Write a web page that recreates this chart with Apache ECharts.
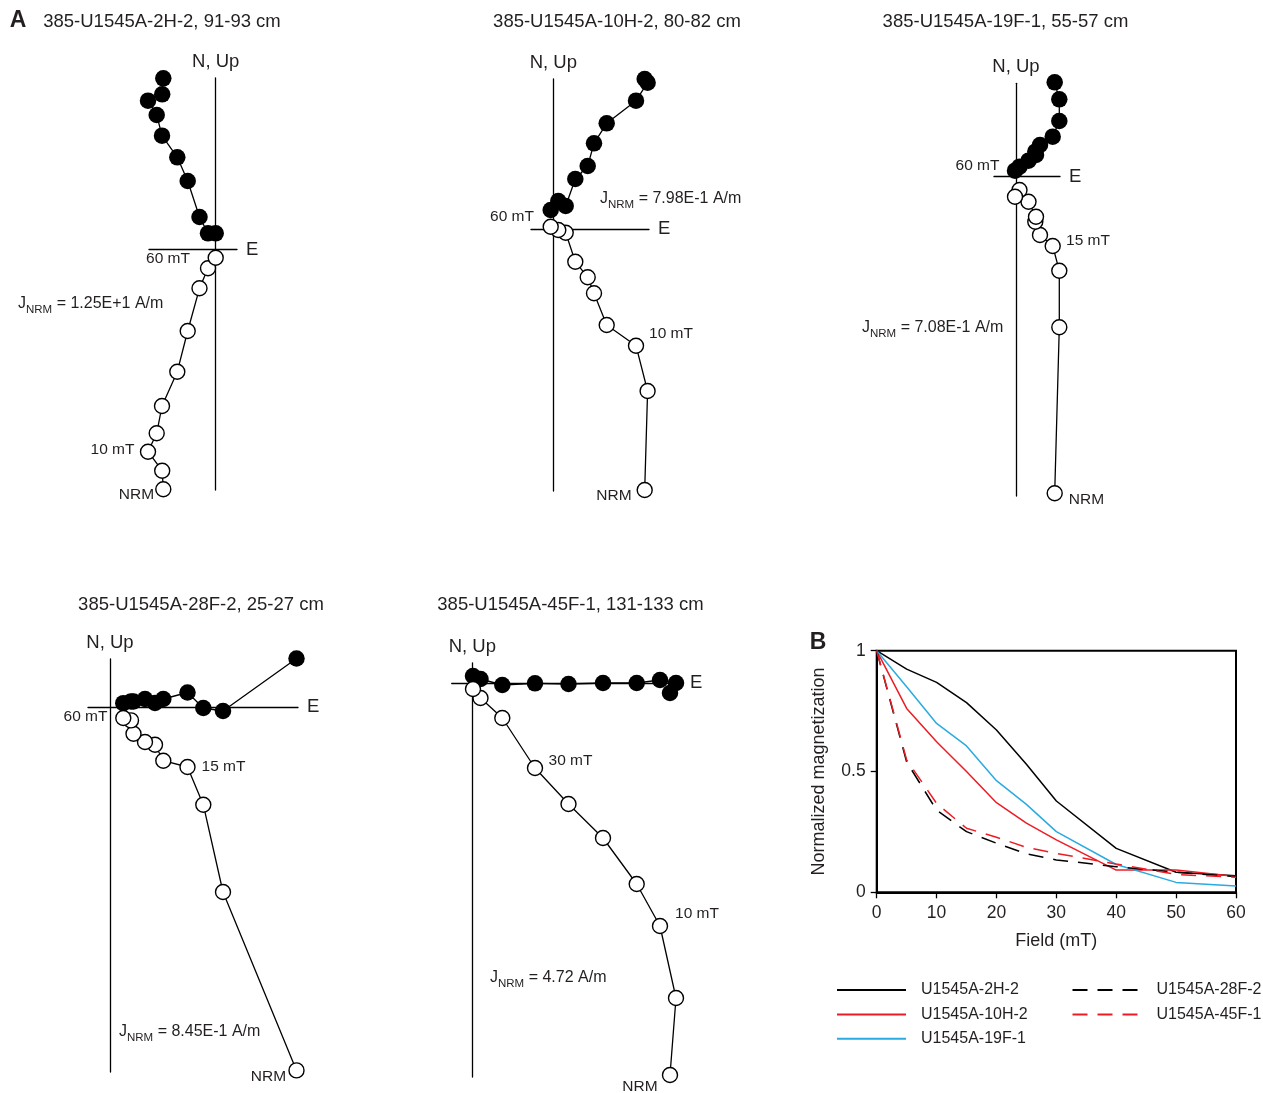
<!DOCTYPE html>
<html>
<head>
<meta charset="utf-8">
<script src="https://cdn.jsdelivr.net/npm/echarts@6/dist/echarts.min.js"></script>
<style>
html,body{margin:0;padding:0;background:#fff;}
#chart{width:1263px;height:1093px;}
</style>
</head>
<body>
<div id="chart"></div>
<script>
// ---------------- DATA ----------------
// AF demagnetization steps (mT)
const steps = [0, 5, 10, 15, 20, 25, 30, 40, 50, 60];

// Zijderveld projections (arbitrary plot units), order NRM -> 60 mT
const east_2H  = [-52.4, -53.5, -67.7, -59.0, -53.7, -38.4, -28.0, -16.2, -7.7, 0.0];
const north_2H = [171.2, 155.2, 148.8, 134.5, 113.8, 92.2, 68.5, 32.5, 16.2, 16.2];
const up_2H    = [-239.8, -221.2, -202.2, -183.8, -156.5, -122.2, -81.5, -38.8, -18.8, -8.2];

const east_10H  = [91.4, 94.3, 82.7, 53.4, 40.7, 34.4, 22.0, 12.4, 5.0, -2.6];
const north_10H = [150.0, 146.3, 128.3, 105.7, 85.7, 63.0, 50.0, 23.0, 28.0, 19.0];
const up_10H    = [-261.0, -162.0, -116.7, -96.0, -64.3, -48.3, -32.7, -3.7, -1.0, 2.3];

const east_19F  = [38.7, 43.3, 43.3, 36.7, 24.0, 19.3, 20.0, 12.5, 3.5, -1.0];
const north_19F = [94.4, 77.4, 55.7, 40.0, 31.7, 25.0, 21.7, 16.0, 10.0, 6.0];
const up_19F    = [-316.6, -150.6, -94.0, -69.3, -58.3, -45.0, -40.0, -25.0, -13.3, -20.0];

const east_28F  = [186.5, 113.0, 93.3, 77.5, 53.3, 45.0, 35.0, 23.5, 21.0, 13.3];
const north_28F = [48.5, -4.0, -1.0, 14.5, 8.0, 4.0, 8.0, 5.5, 5.6, 3.8];
const up_28F    = [-363.4, -185.0, -97.7, -60.0, -53.7, -37.7, -35.0, -26.7, -13.4, -11.0];

const east_45F  = [197.7, 203.7, 187.7, 164.4, 130.7, 96.2, 62.7, 30.0, 8.2, 0.7];
const north_45F = [-9.7, 0.3, 3.3, 0.3, 0.3, -0.7, 0.0, -1.7, 4.3, 7.3];
const up_45F    = [-391.7, -314.7, -242.7, -200.7, -154.7, -120.7, -84.7, -34.7, -14.7, -5.7];

// Normalized magnetization vs field
const field = [0, 5, 10, 15, 20, 25, 30, 40, 50, 60];
const norm_2H  = [1, 0.924, 0.869, 0.785, 0.672, 0.530, 0.378, 0.182, 0.083, 0.069];
const norm_10H = [1, 0.761, 0.623, 0.500, 0.371, 0.286, 0.217, 0.092, 0.092, 0.065];
const norm_19F = [1, 0.851, 0.699, 0.606, 0.462, 0.364, 0.251, 0.115, 0.041, 0.026];
const norm_28F = [1, 0.540, 0.340, 0.251, 0.203, 0.159, 0.134, 0.106, 0.083, 0.065];
const norm_45F = [1, 0.548, 0.368, 0.265, 0.228, 0.186, 0.161, 0.117, 0.074, 0.062];

const sampleNames = ['U1545A-2H-2', 'U1545A-10H-2', 'U1545A-19F-1', 'U1545A-28F-2', 'U1545A-45F-1'];
const panelTitles = ['385-U1545A-2H-2, 91-93 cm', '385-U1545A-10H-2, 80-82 cm', '385-U1545A-19F-1, 55-57 cm',
                     '385-U1545A-28F-2, 25-27 cm', '385-U1545A-45F-1, 131-133 cm'];
const jnrmText = ['1.25E+1 A/m', '7.98E-1 A/m', '7.08E-1 A/m', '8.45E-1 A/m', '4.72 A/m'];

// ---------------- LAYOUT ----------------
const FONT = '"Liberation Sans", Arial, Helvetica, sans-serif';
const TXT = '#231f20';
const RED = '#ed1c24';
const BLUE = '#29abe2';

// frame: origin (ox, oy), horizontal axis x0..x1, vertical axis y0..y1 (pixels)
const frames = [
  {ox: 215.7, oy: 249.5, x0: 149, x1: 237, y0: 78, y1: 490},
  {ox: 553.3, oy: 229, x0: 531, x1: 649, y0: 79, y1: 491},
  {ox: 1016, oy: 176.7, x0: 994, x1: 1060, y0: 83.3, y1: 496},
  {ox: 110, oy: 707, x0: 88, x1: 298, y0: 659, y1: 1072},
  {ox: 472.3, oy: 683.3, x0: 451.7, x1: 681, y0: 663, y1: 1077}
];
const zdata = [
  [east_2H, north_2H, up_2H],
  [east_10H, north_10H, up_10H],
  [east_19F, north_19F, up_19F],
  [east_28F, north_28F, up_28F],
  [east_45F, north_45F, up_45F]
];

const grids = [], xAxes = [], yAxes = [], series = [];

frames.forEach((f, i) => {
  grids.push({left: f.x0, top: f.y0, width: f.x1 - f.x0, height: f.y1 - f.y0, containLabel: false});
  xAxes.push({
    type: 'value', gridIndex: i, min: f.x0 - f.ox, max: f.x1 - f.ox,
    axisLine: {show: true, onZero: true, lineStyle: {color: '#000', width: 1.3}},
    axisTick: {show: false}, axisLabel: {show: false}, splitLine: {show: false},
    name: 'E', nameLocation: 'end', nameGap: 9,
    nameTextStyle: {fontSize: 18.5, color: TXT, fontFamily: FONT}
  });
  yAxes.push({
    type: 'value', gridIndex: i, min: f.oy - f.y1, max: f.oy - f.y0,
    axisLine: {show: true, onZero: true, lineStyle: {color: '#000', width: 1.3}},
    axisTick: {show: false}, axisLabel: {show: false}, splitLine: {show: false},
    name: 'N, Up', nameLocation: 'end', nameGap: 7,
    nameTextStyle: {fontSize: 18.5, color: TXT, fontFamily: FONT}
  });
  const [e, n, u] = zdata[i];
  series.push({
    type: 'line', xAxisIndex: i, yAxisIndex: i, clip: false, silent: true,
    data: e.map((v, k) => [v, n[k]]),
    symbol: 'circle', symbolSize: 16.5, showAllSymbol: true,
    lineStyle: {color: '#000', width: 1.3},
    itemStyle: {color: '#000', borderColor: '#000', borderWidth: 0},
    z: 3
  });
  series.push({
    type: 'line', xAxisIndex: i, yAxisIndex: i, clip: false, silent: true,
    data: e.map((v, k) => [v, u[k]]),
    symbol: 'circle', symbolSize: 15, showAllSymbol: true,
    lineStyle: {color: '#000', width: 1.3},
    itemStyle: {color: '#fff', borderColor: '#000', borderWidth: 1.4},
    z: 4
  });
});

// Panel B
const gB = grids.length;
grids.push({left: 876.7, top: 650.7, width: 359.3, height: 241.6, show: true, borderColor: '#000', borderWidth: 2, containLabel: false});
xAxes.push({
  type: 'value', gridIndex: gB, min: 0, max: 60, interval: 10,
  axisLine: {show: true, onZero: false, lineStyle: {color: '#000', width: 2}},
  axisTick: {show: true, inside: false, length: 6, lineStyle: {color: '#000', width: 1.3}},
  axisLabel: {fontSize: 17.5, color: TXT, fontFamily: FONT, margin: 12},
  splitLine: {show: false},
  name: 'Field (mT)', nameLocation: 'middle', nameGap: 40,
  nameTextStyle: {fontSize: 18, color: TXT, fontFamily: FONT}
});
yAxes.push({
  type: 'value', gridIndex: gB, min: 0, max: 1, interval: 0.5,
  axisLine: {show: true, onZero: false, lineStyle: {color: '#000', width: 2}},
  axisTick: {show: true, inside: false, length: 6, lineStyle: {color: '#000', width: 1.3}},
  axisLabel: {fontSize: 17.5, color: TXT, fontFamily: FONT, margin: 11},
  splitLine: {show: false},
  name: 'Normalized magnetization', nameLocation: 'middle', nameGap: 49, nameRotate: 90,
  nameTextStyle: {fontSize: 18, color: TXT, fontFamily: FONT}
});
const bSeries = [
  {name: sampleNames[0], vals: norm_2H, color: '#000', dash: 'solid'},
  {name: sampleNames[1], vals: norm_10H, color: RED, dash: 'solid'},
  {name: sampleNames[2], vals: norm_19F, color: BLUE, dash: 'solid'},
  {name: sampleNames[3], vals: norm_28F, color: '#000', dash: [15, 10]},
  {name: sampleNames[4], vals: norm_45F, color: RED, dash: [15, 10]}
];
bSeries.forEach(s => {
  series.push({
    name: s.name, type: 'line', xAxisIndex: gB, yAxisIndex: gB, silent: true,
    data: field.map((f, k) => [f, s.vals[k]]),
    symbol: 'none', itemStyle: {color: s.color},
    lineStyle: {color: s.color, width: 1.5, type: s.dash}
  });
});

// ---------------- TEXT ----------------
const graphic = [];
function txt(x, y, text, size, align, weight) {
  graphic.push({type: 'text', x: x, y: y, silent: true,
    style: {text: text, fill: TXT, font: (weight || 'normal') + ' ' + size + 'px ' + FONT,
            align: align || 'center', verticalAlign: 'middle'}});
}
function jnrm(x, y, val) {
  graphic.push({type: 'text', x: x, y: y, silent: true,
    style: {text: '{j|J}{s|NRM}{n| = ' + val + '}', align: 'left', verticalAlign: 'middle',
      rich: {
        j: {fontSize: 16, fontFamily: FONT, fill: TXT, color: TXT, verticalAlign: 'middle', lineHeight: 24},
        s: {fontSize: 11.5, fontFamily: FONT, fill: TXT, color: TXT, verticalAlign: 'bottom', lineHeight: 24},
        n: {fontSize: 16, fontFamily: FONT, fill: TXT, color: TXT, verticalAlign: 'middle', lineHeight: 24}
      }}});
}
txt(18, 21, 'A', 23, 'center', 'bold');
txt(818, 643, 'B', 23, 'center', 'bold');
txt(162, 22, panelTitles[0], 18.5);
txt(617, 22, panelTitles[1], 18.5);
txt(1005.5, 22, panelTitles[2], 18.5);
txt(201, 605, panelTitles[3], 18.5);
txt(570.5, 605, panelTitles[4], 18.5);

// panel 1
txt(168, 259, '60 mT', 15.5); txt(112.5, 450, '10 mT', 15.5); txt(136.5, 495, 'NRM', 15.5);
jnrm(18, 304, jnrmText[0]);
// panel 2
txt(512, 217, '60 mT', 15.5); txt(671, 334, '10 mT', 15.5); txt(614, 496, 'NRM', 15.5);
jnrm(600, 199, jnrmText[1]);
// panel 3
txt(977.5, 166, '60 mT', 15.5); txt(1088, 240.5, '15 mT', 15.5); txt(1086.5, 499.5, 'NRM', 15.5);
jnrm(862, 328, jnrmText[2]);
// panel 4
txt(85.5, 716.5, '60 mT', 15.5); txt(223.5, 766.5, '15 mT', 15.5); txt(268.5, 1076.5, 'NRM', 15.5);
jnrm(119, 1032, jnrmText[3]);
// panel 5
txt(570.5, 760.5, '30 mT', 15.5); txt(697, 914, '10 mT', 15.5); txt(640, 1086.5, 'NRM', 15.5);
jnrm(490, 978, jnrmText[4]);

const legendBase = {
  orient: 'vertical', itemWidth: 69, itemHeight: 14, itemGap: 8.4, padding: 0,
  itemStyle: {opacity: 0},
  textStyle: {fontSize: 16, color: TXT, fontFamily: FONT, padding: [0, 0, 0, 10]},
  selectedMode: false
};

const option = {
  animation: false,
  backgroundColor: '#fff',
  grid: grids, xAxis: xAxes, yAxis: yAxes, series: series,
  legend: [
    Object.assign({}, legendBase, {left: 836, top: 982, data: sampleNames.slice(0, 3)}),
    Object.assign({}, legendBase, {left: 1071.5, top: 982, data: sampleNames.slice(3)})
  ],
  graphic: graphic
};

const chart = echarts.init(document.getElementById('chart'), null, {renderer: 'canvas'});
chart.setOption(option);
</script>
</body>
</html>
